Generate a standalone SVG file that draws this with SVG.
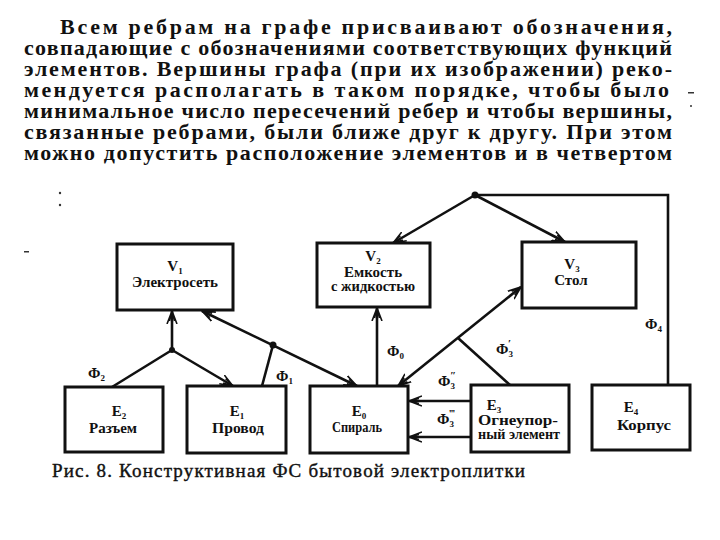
<svg xmlns="http://www.w3.org/2000/svg" width="720" height="540" viewBox="0 0 720 540">
<style>
.para{font-family:"Liberation Serif",serif;font-size:22px;font-weight:bold;fill:#111}
.cap{font-family:"Liberation Serif",serif;font-size:19px;fill:#111;stroke:#111;stroke-width:0.4}
.box{fill:#fff;stroke:#111;stroke-width:3}
.nt{font-family:"Liberation Serif",serif;font-size:15px;font-weight:bold;fill:#111;text-anchor:middle}
.sub{font-size:9px}
.pr{font-size:11px}
.lbl{font-family:"Liberation Serif",serif;font-size:15px;font-weight:bold;fill:#111}
.edge{fill:none;stroke:#111;stroke-width:2.6}
.dot{fill:#111}
</style>
<defs>
<marker id="arr" markerUnits="userSpaceOnUse" markerWidth="16" markerHeight="12" refX="13" refY="6" orient="auto-start-reverse" viewBox="0 0 16 12">
<path d="M0,1 L13,6 L0,11 M3,3.5 L13,6 L3,8.5" fill="none" stroke="#111" stroke-width="1.6"/>
</marker>
</defs>
<rect width="720" height="540" fill="#fff"/>

<g id="paragraph">
<text class="para" x="60" y="34" textLength="612" lengthAdjust="spacing">Всем ребрам на графе присваивают обозначения,</text>
<text class="para" x="24" y="55" textLength="648" lengthAdjust="spacing">совпадающие с обозначениями соответствующих функций</text>
<text class="para" x="24" y="76" textLength="648" lengthAdjust="spacing">элементов. Вершины графа (при их изображении) реко-</text>
<text class="para" x="24" y="97" textLength="645" lengthAdjust="spacing">мендуется располагать в таком порядке, чтобы было</text>
<text class="para" x="24" y="118" textLength="648" lengthAdjust="spacing">минимальное число пересечений ребер и чтобы вершины,</text>
<text class="para" x="24" y="139" textLength="648" lengthAdjust="spacing">связанные ребрами, были ближе друг к другу. При этом</text>
<text class="para" x="24" y="160" textLength="648" lengthAdjust="spacing">можно допустить расположение элементов и в четвертом</text>
</g>

<g id="specks" fill="#333">
<rect x="688" y="92" width="6" height="1.5"/>
<circle cx="691" cy="106" r="1"/>
<circle cx="60" cy="193" r="1.2"/>
<circle cx="60" cy="205" r="1.2"/>
<rect x="24" y="251" width="5" height="1.5"/>
</g>

<g id="connectors">
<line class="edge" x1="172" y1="350" x2="172" y2="311" marker-end="url(#arr)"/>
<line class="edge" x1="172" y1="350" x2="112" y2="387"/>
<line class="edge" x1="172" y1="350" x2="233" y2="386" marker-end="url(#arr)"/>
<line class="edge" x1="202" y1="311" x2="357" y2="386" marker-start="url(#arr)" marker-end="url(#arr)"/>
<line class="edge" x1="273" y1="345" x2="262" y2="386"/>
<line class="edge" x1="377" y1="386" x2="377" y2="308" marker-end="url(#arr)"/>
<line class="edge" x1="398" y1="386" x2="521" y2="287" marker-start="url(#arr)" marker-end="url(#arr)"/>
<line class="edge" x1="458" y1="338" x2="510" y2="385"/>
<line class="edge" x1="471" y1="401" x2="409" y2="401" marker-end="url(#arr)"/>
<line class="edge" x1="471" y1="437" x2="409" y2="437" marker-end="url(#arr)"/>
<line class="edge" x1="475" y1="195" x2="393" y2="243" marker-end="url(#arr)"/>
<line class="edge" x1="475" y1="195" x2="565" y2="242" marker-end="url(#arr)"/>
<polyline class="edge" points="475,195 668,195 668,385"/>
<circle class="dot" cx="172" cy="350" r="3"/>
<circle class="dot" cx="273" cy="345" r="3.5"/>
<circle class="dot" cx="475" cy="195" r="3.5"/>
</g>

<g id="edge-labels">
<text class="lbl" x="88" y="378">Φ<tspan class="sub" dy="3">2</tspan></text>
<text class="lbl" x="276" y="381">Φ<tspan class="sub" dy="3">1</tspan></text>
<text class="lbl" x="387" y="356">Φ<tspan class="sub" dy="3">0</tspan></text>
<text class="lbl" x="496" y="354">Φ<tspan class="sub" dy="3">3</tspan><tspan class="pr" dx="-5" dy="-10">′</tspan></text>
<text class="lbl" x="438" y="386">Φ<tspan class="sub" dy="3">3</tspan><tspan class="pr" dx="-5" dy="-10">″</tspan></text>
<text class="lbl" x="437" y="424">Φ<tspan class="sub" dy="3">3</tspan><tspan class="pr" dx="-5" dy="-10">‴</tspan></text>
<text class="lbl" x="645" y="329">Φ<tspan class="sub" dy="3">4</tspan></text>
</g>

<g id="V1">
<rect class="box" x="117" y="244" width="116" height="66"/>
<text class="nt" x="175" y="271">V<tspan class="sub" dy="3">1</tspan></text>
<text class="nt" x="175" y="287" textLength="86" lengthAdjust="spacingAndGlyphs">Электросеть</text>
</g>
<g id="V2">
<rect class="box" x="317" y="243" width="113" height="64"/>
<text class="nt" x="373" y="261">V<tspan class="sub" dy="3">2</tspan></text>
<text class="nt" x="373" y="277">Емкость</text>
<text class="nt" x="373" y="291" textLength="84" lengthAdjust="spacingAndGlyphs">с жидкостью</text>
</g>
<g id="V3">
<rect class="box" x="522" y="242" width="114" height="66"/>
<text class="nt" x="572" y="269">V<tspan class="sub" dy="3">3</tspan></text>
<text class="nt" x="571" y="285">Стол</text>
</g>
<g id="E2">
<rect class="box" x="65" y="387" width="98" height="65"/>
<text class="nt" x="119" y="416">E<tspan class="sub" dy="3">2</tspan></text>
<text class="nt" x="113" y="433" textLength="48" lengthAdjust="spacingAndGlyphs">Разъем</text>
</g>
<g id="E1">
<rect class="box" x="187" y="386" width="99" height="67"/>
<text class="nt" x="237" y="416">E<tspan class="sub" dy="3">1</tspan></text>
<text class="nt" x="238" y="433" textLength="52" lengthAdjust="spacingAndGlyphs">Провод</text>
</g>
<g id="E0">
<rect class="box" x="310" y="386" width="98" height="67"/>
<text class="nt" x="359" y="416">E<tspan class="sub" dy="3">0</tspan></text>
<text class="nt" x="357" y="432" textLength="50" lengthAdjust="spacingAndGlyphs">Спираль</text>
</g>
<g id="E3">
<rect class="box" x="471" y="385" width="98" height="67"/>
<text class="nt" x="494" y="410">E<tspan class="sub" dy="3">3</tspan></text>
<text class="nt" x="518" y="425" textLength="80" lengthAdjust="spacingAndGlyphs">Огнеупор-</text>
<text class="nt" x="519" y="439" textLength="82" lengthAdjust="spacingAndGlyphs">ный элемент</text>
</g>
<g id="E4">
<rect class="box" x="592" y="385" width="98" height="65"/>
<text class="nt" x="631" y="412">E<tspan class="sub" dy="3">4</tspan></text>
<text class="nt" x="644" y="430" textLength="54" lengthAdjust="spacingAndGlyphs">Корпус</text>
</g>

<g id="caption">
<text class="cap" x="52" y="477" textLength="473" lengthAdjust="spacing">Рис. 8. Конструктивная ФС бытовой электроплитки</text>
</g>
</svg>
